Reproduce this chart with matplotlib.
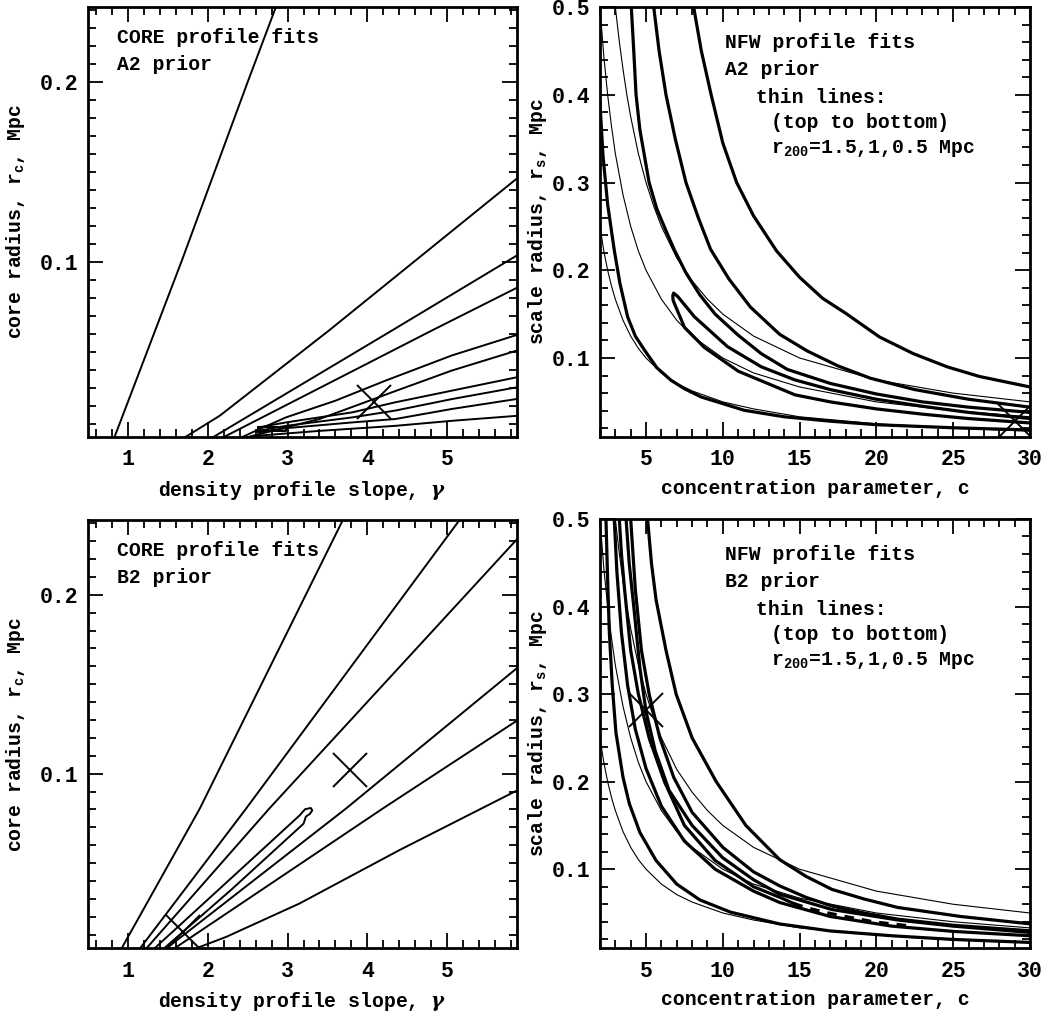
import numpy as np
import matplotlib
matplotlib.use('Agg')
import matplotlib.pyplot as plt
from matplotlib.ticker import MultipleLocator

plt.rcParams['font.family'] = ['Liberation Mono', 'DejaVu Serif']
plt.rcParams['font.weight'] = 'bold'
plt.rcParams['axes.labelweight'] = 'bold'
plt.rcParams['mathtext.fontset'] = 'dejavuserif'

# ---------------- CORE profile, A2 prior (gamma, r_c) ----------------
tl_lines = [
    ([0.83, 1.67, 2.50, 2.86], [0.0022, 0.100, 0.200, 0.2425]),
    ([1.71, 2.15, 3.52, 5.88], [0.0022, 0.0143, 0.0618, 0.1466]),
    ([2.06, 4.31, 5.88], [0.0022, 0.0618, 0.1037]),
    ([2.19, 4.81, 5.88], [0.0022, 0.0618, 0.0857]),
    ([2.42, 2.60, 2.98, 3.60, 4.23, 5.06, 5.88], [0.0022, 0.0059, 0.0134, 0.0227, 0.0339, 0.0479, 0.0594]),
    ([2.48, 2.98, 3.40, 4.08, 4.31, 5.06, 5.88], [0.0022, 0.0078, 0.0125, 0.0236, 0.0274, 0.0395, 0.0507]),
    ([2.63, 2.98, 3.81, 4.35, 5.06, 5.88], [0.0078, 0.0106, 0.0162, 0.0218, 0.0283, 0.0358]),
    ([2.63, 2.98, 3.81, 4.35, 5.06, 5.88], [0.0059, 0.0087, 0.0134, 0.0172, 0.0236, 0.0302]),
    ([2.63, 2.98, 3.81, 4.35, 5.06, 5.88], [0.0050, 0.0074, 0.0106, 0.0125, 0.0181, 0.0237]),
    ([2.50, 2.60, 3.40, 4.35, 5.06, 5.88], [0.0022, 0.0031, 0.0059, 0.0087, 0.0115, 0.0143]),
    ([2.63, 2.98, 2.98, 2.63, 2.63], [0.0059, 0.0059, 0.0078, 0.0078, 0.0059]),
]
tl_best_x = [4.08]
tl_best_y = [0.0218]

# ---------------- CORE profile, B2 prior ----------------
bl_lines = [
    ([0.92, 1.90, 3.69], [0.0022, 0.0804, 0.2415]),
    ([1.15, 2.48, 5.15], [0.0022, 0.0804, 0.2415]),
    ([1.23, 2.77, 5.88], [0.0022, 0.0804, 0.2313]),
    ([1.48, 3.73, 5.88], [0.0022, 0.0804, 0.1592]),
    ([1.58, 4.19, 5.88], [0.0022, 0.0804, 0.1298]),
    ([1.90, 2.23, 3.15, 4.40, 5.88], [0.0031, 0.0087, 0.0274, 0.0572, 0.0907]),
]
bl_loop_x = [1.33, 2.30, 3.15, 3.22, 3.29, 3.31, 3.28, 3.23, 3.20, 2.30, 1.45]
bl_loop_y = [0.0022, 0.0418, 0.0766, 0.0801, 0.0808, 0.0795, 0.0775, 0.0760, 0.0720, 0.0353, 0.0022]
bl_best_x = [1.69, 3.78]
bl_best_y = [0.0115, 0.102]

# ---------------- NFW thin lines: r200 = 1.5, 1, 0.5 Mpc ----------------
thin15_c = [3.0, 3.25, 3.5, 3.75, 4.0, 4.5, 5.0, 5.5, 6.0, 7.0, 8.0, 9.0, 10.0, 12.0, 15.0, 20.0, 25.0, 30.0]
thin15_r = [0.5, 0.462, 0.429, 0.4, 0.375, 0.333, 0.3, 0.273, 0.25, 0.214, 0.188, 0.167, 0.15, 0.125, 0.1, 0.075, 0.06, 0.05]
thin10_c = [2.0, 2.25, 2.5, 2.75, 3.0, 3.5, 4.0, 4.5, 5.0, 6.0, 7.0, 8.0, 10.0, 12.0, 15.0, 20.0, 25.0, 30.0]
thin10_r = [0.5, 0.444, 0.4, 0.364, 0.333, 0.286, 0.25, 0.222, 0.2, 0.167, 0.143, 0.125, 0.1, 0.083, 0.067, 0.05, 0.04, 0.033]
thin05_c = [2.0, 2.25, 2.5, 2.75, 3.0, 3.5, 4.0, 4.5, 5.0, 6.0, 7.0, 8.0, 10.0, 12.0, 15.0, 20.0, 25.0, 30.0]
thin05_r = [0.25, 0.222, 0.2, 0.182, 0.167, 0.143, 0.125, 0.111, 0.1, 0.083, 0.071, 0.0625, 0.05, 0.042, 0.033, 0.025, 0.02, 0.0167]

# ---------------- NFW profile, A2 prior (c, r_s) ----------------
tr_thick = [
    ([8.1, 8.6, 9.24, 10.0, 10.9, 12.0, 13.5, 15.0, 16.5, 18.0, 20.2, 22.4, 24.6, 26.7, 30.0],
     [0.5, 0.45, 0.4, 0.345, 0.3, 0.262, 0.222, 0.192, 0.168, 0.151, 0.124, 0.105, 0.09, 0.079, 0.067]),
    ([5.5, 5.85, 6.3, 6.9, 7.6, 8.4, 9.2, 10.4, 11.8, 13.7, 15.5, 17.5, 19.6, 22.5, 26.0, 30.0],
     [0.5, 0.45, 0.4, 0.35, 0.3, 0.26, 0.224, 0.19, 0.158, 0.127, 0.108, 0.091, 0.077, 0.064, 0.053, 0.044]),
    ([4.04, 4.2, 4.35, 4.6, 4.9, 5.2, 5.7, 6.3, 6.85, 7.6, 8.5, 9.5, 11.0, 12.5, 14.2, 17.0, 20.0, 23.0, 26.0, 30.0],
     [0.5, 0.45, 0.4, 0.36, 0.33, 0.3, 0.27, 0.245, 0.223, 0.197, 0.172, 0.15, 0.126, 0.105, 0.087, 0.071, 0.059, 0.05, 0.044, 0.038]),
    ([30.0, 26.0, 23.0, 20.0, 17.0, 14.7, 12.5, 10.3, 8.15, 7.07, 6.8, 6.74, 6.76, 6.85, 7.5, 8.8, 11.0, 14.7, 17.0, 20.0, 23.0, 26.0, 30.0],
     [0.031, 0.038, 0.045, 0.053, 0.064, 0.075, 0.090, 0.113, 0.147, 0.170, 0.174, 0.171, 0.166, 0.162, 0.135, 0.112, 0.085, 0.058, 0.05, 0.042, 0.036, 0.031, 0.026]),
    ([2.0, 2.2, 2.5, 2.93, 3.3, 3.8, 4.3, 4.9, 5.7, 6.63, 7.5, 8.59, 10.0, 11.4, 14.0, 17.0, 20.0, 25.0, 30.0],
     [0.39, 0.33, 0.275, 0.223, 0.185, 0.147, 0.125, 0.109, 0.089, 0.0746, 0.065, 0.0556, 0.048, 0.0404, 0.033, 0.028, 0.024, 0.0205, 0.018]),
]
tr_best_c = [29.0]
tr_best_r = [0.028]

# ---------------- NFW profile, B2 prior ----------------
br_thick = [
    ([5.1, 5.35, 5.65, 6.3, 6.96, 8.0, 9.57, 11.5, 13.7, 15.4, 17.1, 19.2, 21.4, 25.5, 30.0],
     [0.5, 0.45, 0.408, 0.35, 0.3, 0.25, 0.2, 0.15, 0.111, 0.092, 0.077, 0.066, 0.0563, 0.046, 0.0376]),
    ([4.0, 4.3, 4.7, 5.2, 5.9, 6.8, 8.0, 10.0, 12.0, 13.7, 15.4, 17.1, 19.2, 21.4, 25.0, 30.0],
     [0.5, 0.42, 0.35, 0.3, 0.25, 0.205, 0.165, 0.125, 0.097, 0.081, 0.068, 0.058, 0.05, 0.043, 0.036, 0.0297]),
    ([3.7, 3.9, 4.2, 4.6, 5.0, 5.6, 6.5, 8.0, 10.0, 12.0, 13.7, 17.1, 21.4, 25.0, 30.0],
     [0.5, 0.45, 0.4, 0.33, 0.28, 0.235, 0.19, 0.15, 0.113, 0.088, 0.0715, 0.054, 0.042, 0.035, 0.0278]),
    ([3.26, 3.4, 3.6, 4.0, 4.5, 5.2, 6.2, 7.5, 9.5, 12.0, 13.7, 14.6],
     [0.5, 0.46, 0.42, 0.35, 0.3, 0.25, 0.2, 0.15, 0.11, 0.08, 0.068, 0.061]),
    ([2.93, 3.1, 3.4, 3.8, 4.3, 5.0, 6.0, 7.5, 9.5, 12.0, 13.7, 17.0, 21.0, 25.0, 30.0],
     [0.5, 0.44, 0.37, 0.31, 0.26, 0.215, 0.172, 0.132, 0.1, 0.075, 0.062, 0.046, 0.035, 0.029, 0.024]),
    ([2.39, 2.5, 2.61, 2.8, 3.04, 3.5, 3.91, 4.6, 5.65, 7.0, 8.5, 10.5, 13.7, 17.0, 21.0, 25.0, 30.0],
     [0.5, 0.43, 0.37, 0.31, 0.256, 0.205, 0.175, 0.142, 0.11, 0.083, 0.065, 0.051, 0.0375, 0.0295, 0.024, 0.0198, 0.0164]),
]
br_dash_c = [14.6, 15.4, 16.7, 18.0, 19.8, 22.1]
br_dash_r = [0.061, 0.0563, 0.0506, 0.046, 0.040, 0.0354]
br_dot_c = [5.0, 5.1, 5.2, 5.3]
br_dot_r = [0.278, 0.265, 0.252, 0.24]
br_best_c = [5.0]
br_best_r = [0.282]

FS = 14.2


def style(ax, xlim, ylim, xmaj, xmin, ymaj, ymin):
    ax.set_xlim(*xlim)
    ax.set_ylim(*ylim)
    ax.xaxis.set_major_locator(MultipleLocator(xmaj))
    ax.xaxis.set_minor_locator(MultipleLocator(xmin))
    ax.yaxis.set_major_locator(MultipleLocator(ymaj))
    ax.yaxis.set_minor_locator(MultipleLocator(ymin))
    ax.tick_params(which='both', direction='in', top=True, right=True, labelsize=15.5)
    ax.tick_params(which='major', length=11, width=1.3)
    ax.tick_params(which='minor', length=6, width=1.3)
    ax.tick_params(axis='x', pad=9)
    ax.tick_params(axis='y', pad=7)
    for s in ax.spines.values():
        s.set_linewidth(2)


fig = plt.figure(figsize=(10.5, 10.16), dpi=100)
ax_tl = fig.add_axes([0.0838, 0.5699, 0.4086, 0.4232])
ax_tr = fig.add_axes([0.5714, 0.5699, 0.4095, 0.4232])
ax_bl = fig.add_axes([0.0838, 0.0669, 0.4086, 0.4213])
ax_br = fig.add_axes([0.5714, 0.0669, 0.4095, 0.4223])

mk = dict(marker='x', ls='none', color='k', markersize=25, markeredgewidth=1.4)

# core panels
for ax, lines, prior in [(ax_tl, tl_lines, 'A2 prior'), (ax_bl, bl_lines, 'B2 prior')]:
    for x, y in lines:
        ax.plot(x, y, color='k', lw=1.4)
    style(ax, (0.5, 5.875), (0.0025, 0.2418), 1, 0.2, 0.1, 0.01)
    ax.set_xlabel(r'density profile slope, $\gamma$', fontsize=FS, labelpad=6)
    ax.set_ylabel(r'core radius, r$_{\mathregular{c}}$, Mpc', fontsize=FS, labelpad=9)
    ax.text(0.067, 0.916, 'CORE profile fits', transform=ax.transAxes, fontsize=FS, va='baseline')
    ax.text(0.067, 0.853, prior, transform=ax.transAxes, fontsize=FS, va='baseline')

ax_tl.plot(tl_best_x, tl_best_y, **mk)
ax_bl.plot(bl_loop_x, bl_loop_y, color='k', lw=1.4)
ax_bl.plot(bl_best_x, bl_best_y, **mk)

# NFW panels
for ax, thick, prior in [(ax_tr, tr_thick, 'A2 prior'), (ax_br, br_thick, 'B2 prior')]:
    for c, r in [(thin15_c, thin15_r), (thin10_c, thin10_r), (thin05_c, thin05_r)]:
        ax.plot(c, r, color='k', lw=0.8)
    for c, r in thick:
        ax.plot(c, r, color='k', lw=2.3)
    style(ax, (2, 30), (0.01, 0.5), 5, 1, 0.1, 0.02)
    ax.set_xlabel('concentration parameter, c', fontsize=FS, labelpad=6)
    ax.set_ylabel(r'scale radius, r$_{\mathregular{s}}$, Mpc', fontsize=FS, labelpad=2)
    ax.text(0.291, 0.904, 'NFW profile fits', transform=ax.transAxes, fontsize=FS, va='baseline')
    ax.text(0.291, 0.842, prior, transform=ax.transAxes, fontsize=FS, va='baseline')
    ax.text(0.364, 0.776, 'thin lines:', transform=ax.transAxes, fontsize=FS, va='baseline')
    ax.text(0.397, 0.718, '(top to bottom)', transform=ax.transAxes, fontsize=FS, va='baseline')
    ax.text(0.397, 0.660, r'r$_{\mathregular{200}}$=1.5,1,0.5 Mpc', transform=ax.transAxes,
            fontsize=FS, va='baseline')

ax_tr.plot(tr_best_c, tr_best_r, **mk)
ax_br.plot(br_dash_c, br_dash_r, color='k', lw=2.3, ls=(0, (3, 2.5)))
ax_br.plot(br_dot_c, br_dot_r, color='k', lw=1.5, ls=':')
ax_br.plot(br_best_c, br_best_r, **mk)

fig.savefig('out.png', dpi=100)
